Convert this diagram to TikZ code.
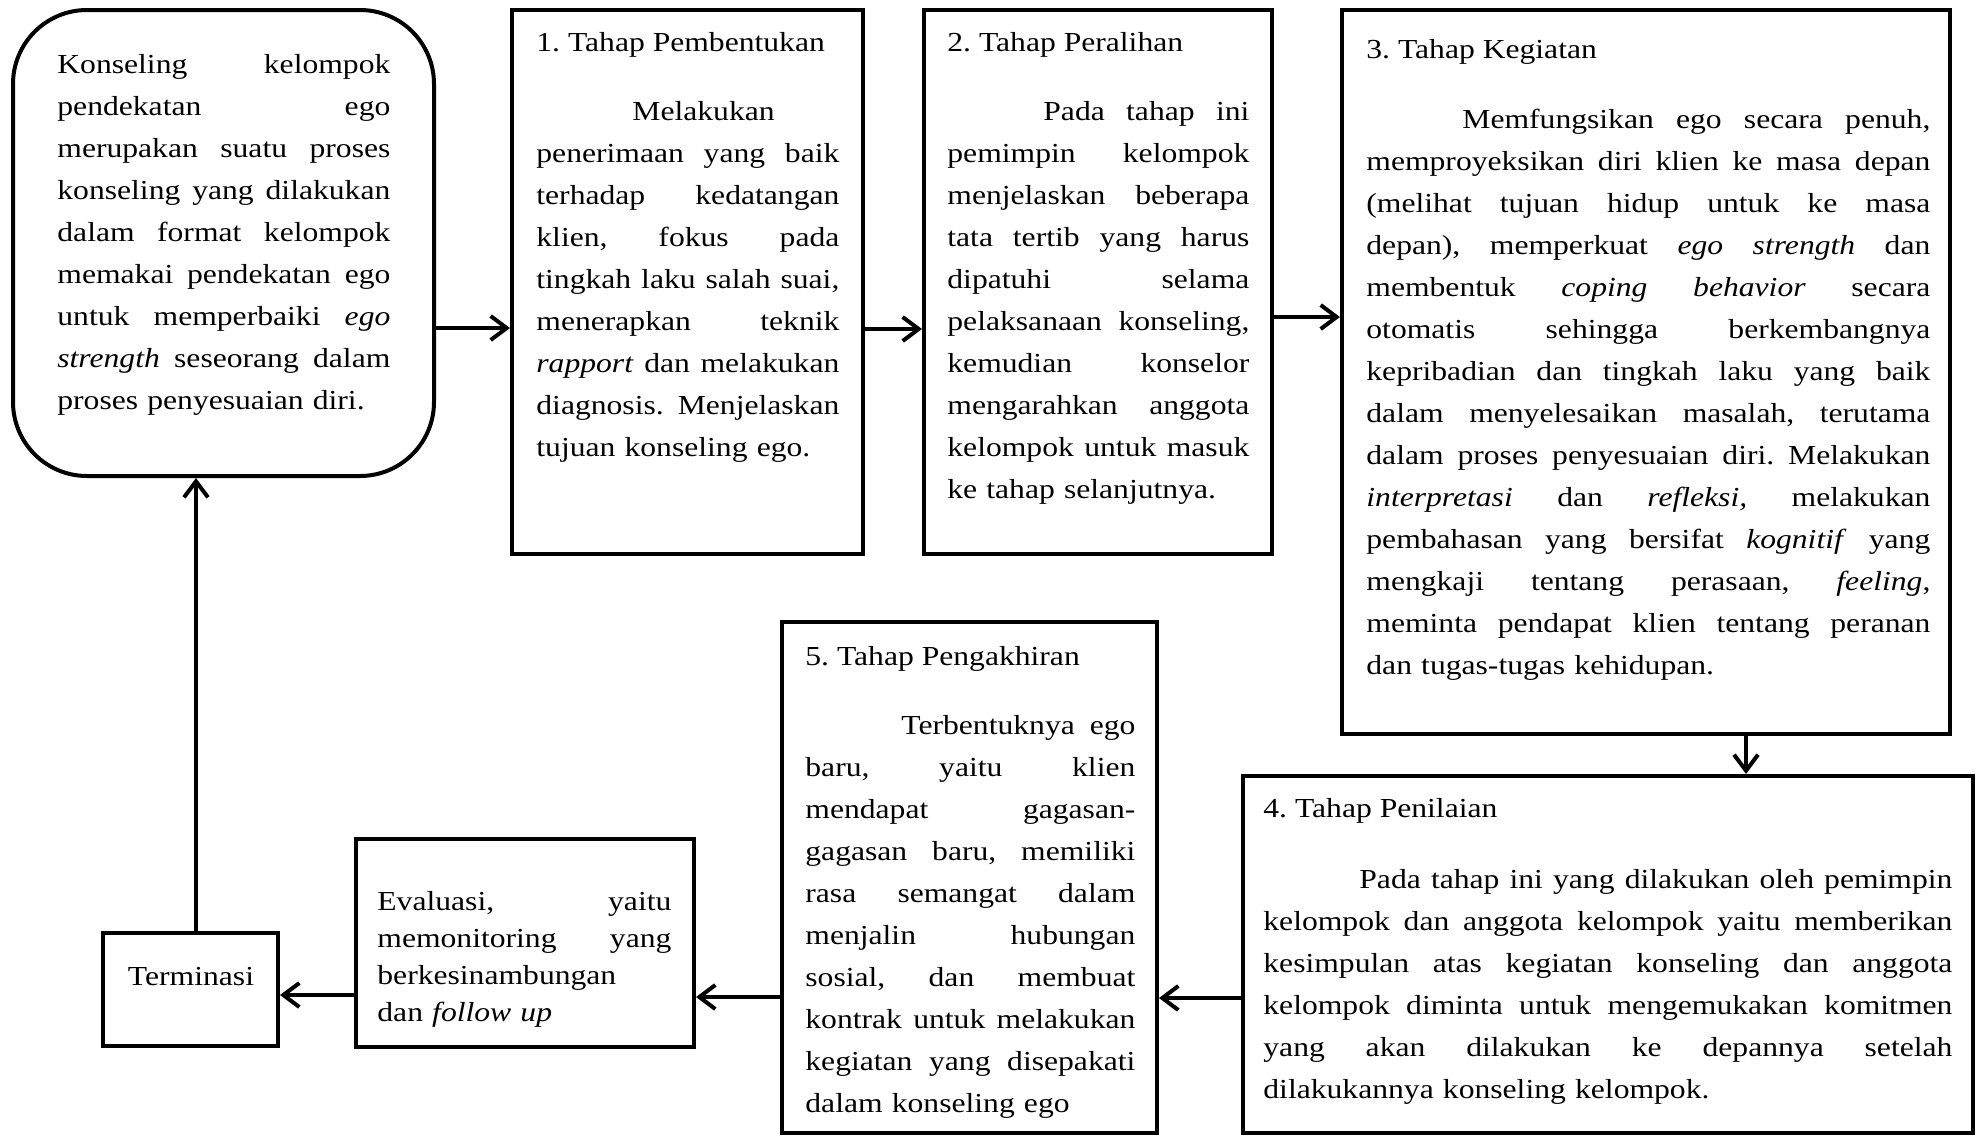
\documentclass[tikz,border=0pt]{standalone}
\usepackage{fontspec}
\setmainfont{Liberation Serif}[FakeStretch=1.15]
\usetikzlibrary{arrows.meta,fit}
\def\W{100pt}
\newcommand\jl[1]{\leavevmode\hbox to \W{\spaceskip=0.25em plus 1fill\xspaceskip=0.25em plus 1fill\relax #1}}
\tikzset{
  boxst/.style={draw, line width=2pt, inner sep=0pt, rectangle},
  txt/.style={inner sep=0pt, anchor=base west, align=left, text width=#1,
    font=\fontsize{13.75pt}{21pt}\selectfont\frenchspacing},
  ttl/.style={inner sep=0pt, anchor=base west, font=\fontsize{13.75pt}{21pt}\selectfont\frenchspacing},
  arr/.style={line width=2pt, -{Straight Barb[length=8pt,width=12pt]}},
}
\begin{document}
\begin{tikzpicture}[x=0.5pt,y=-0.5pt]
\useasboundingbox[fill=white] (0,0) rectangle (1977,1137);

% boxes
\node[boxst, rounded corners=37pt, fit={(13,10) (434,476)}] (b0) {};
\node[boxst, fit={(512,10) (863,554)}] (b1) {};
\node[boxst, fit={(924,10) (1272,554)}] (b2) {};
\node[boxst, fit={(1342,10) (1950,734)}] (b3) {};
\node[boxst, fit={(1243,776) (1973,1133)}] (b4) {};
\node[boxst, fit={(782,622) (1157,1133)}] (b5) {};
\node[boxst, fit={(356,839) (694,1047)}] (ev) {};
\node[boxst, fit={(103,933) (278,1046)}] (te) {};

% texts
\node[txt=166.5pt] (t0) at (57,73) {\def\W{166.5pt}%
\jl{Konseling kelompok}\\
\jl{pendekatan ego}\\
\jl{merupakan suatu proses}\\
\jl{konseling yang dilakukan}\\
\jl{dalam format kelompok}\\
\jl{memakai pendekatan ego}\\
\jl{untuk memperbaiki \textit{ego}}\\
\jl{\textit{strength} seseorang dalam}\\
proses penyesuaian diri.};

\node[ttl] (h1) at (536,51) {1. Tahap Pembentukan};
\node[txt=151.5pt] (t1) at (536,120) {\def\W{151.5pt}%
\hspace*{48pt}Melakukan\\
\jl{penerimaan yang baik}\\
\jl{terhadap kedatangan}\\
\jl{klien, fokus pada}\\
\jl{tingkah laku salah suai,}\\
\jl{menerapkan teknik}\\
\jl{\textit{rapport} dan melakukan}\\
\jl{diagnosis. Menjelaskan}\\
tujuan konseling ego.};

\node[ttl] (h2) at (947,51) {2. Tahap Peralihan};
\node[txt=151pt] (t2) at (947,120) {\def\W{151pt}%
\jl{\hspace*{48pt}Pada tahap ini}\\
\jl{pemimpin kelompok}\\
\jl{menjelaskan beberapa}\\
\jl{tata tertib yang harus}\\
\jl{dipatuhi selama}\\
\jl{pelaksanaan konseling,}\\
\jl{kemudian konselor}\\
\jl{mengarahkan anggota}\\
\jl{kelompok untuk masuk}\\
ke tahap selanjutnya.};

\node[ttl] (h3) at (1366,58) {3. Tahap Kegiatan};
\node[txt=282pt] (t3) at (1366,128) {\def\W{282pt}%
\jl{\hspace*{48pt}Memfungsikan ego secara penuh,}\\
\jl{memproyeksikan diri klien ke masa depan}\\
\jl{(melihat tujuan hidup untuk ke masa}\\
\jl{depan), memperkuat \textit{ego} \textit{strength} dan}\\
\jl{membentuk \textit{coping} \textit{behavior} secara}\\
\jl{otomatis sehingga berkembangnya}\\
\jl{kepribadian dan tingkah laku yang baik}\\
\jl{dalam menyelesaikan masalah, terutama}\\
\jl{dalam proses penyesuaian diri. Melakukan}\\
\jl{\textit{interpretasi} dan \textit{refleksi,} melakukan}\\
\jl{pembahasan yang bersifat \textit{kognitif} yang}\\
\jl{mengkaji tentang perasaan, \textit{feeling},}\\
\jl{meminta pendapat klien tentang peranan}\\
dan tugas-tugas kehidupan.};

\node[ttl] (h4) at (1263,817) {4. Tahap Penilaian};
\node[txt=344.5pt] (t4) at (1263,888) {\def\W{344.5pt}%
\jl{\hspace*{48pt}Pada tahap ini yang dilakukan oleh pemimpin}\\
\jl{kelompok dan anggota kelompok yaitu memberikan}\\
\jl{kesimpulan atas kegiatan konseling dan anggota}\\
\jl{kelompok diminta untuk mengemukakan komitmen}\\
\jl{yang akan dilakukan ke depannya setelah}\\
dilakukannya konseling kelompok.};

\node[ttl] (h5) at (805,665) {5. Tahap Pengakhiran};
\node[txt=165pt] (t5) at (805,734) {\def\W{165pt}%
\jl{\hspace*{48pt}Terbentuknya ego}\\
\jl{baru, yaitu klien}\\
\jl{mendapat gagasan-}\\
\jl{gagasan baru, memiliki}\\
\jl{rasa semangat dalam}\\
\jl{menjalin hubungan}\\
\jl{sosial, dan membuat}\\
\jl{kontrak untuk melakukan}\\
\jl{kegiatan yang disepakati}\\
dalam konseling ego};

\node[txt=147pt, font=\fontsize{13.75pt}{18.5pt}\selectfont\frenchspacing] (tev) at (377,910) {\def\W{147pt}%
\jl{Evaluasi, yaitu}\\
\jl{memonitoring yang}\\
berkesinambungan\\
dan \textit{follow up}};

\node[ttl, anchor=base] (tte) at (191,985) {Terminasi};

% connector guides
\coordinate (a01) at (0,328);
\coordinate (a12) at (0,329);
\coordinate (a23) at (0,317);
\coordinate (a34) at (1746,0);
\coordinate (a45) at (0,998);
\coordinate (a5e) at (0,997);
\coordinate (aet) at (0,995);
\coordinate (at0) at (196,0);

\draw[arr] (a01 -| b0.east) -- (a01 -| b1.west);
\draw[arr] (a12 -| b1.east) -- (a12 -| b2.west);
\draw[arr] (a23 -| b2.east) -- (a23 -| b3.west);
\draw[arr] (a34 |- b3.south) -- (a34 |- b4.north);
\draw[arr] (a45 -| b4.west) -- (a45 -| b5.east);
\draw[arr] (a5e -| b5.west) -- (a5e -| ev.east);
\draw[arr] (aet -| ev.west) -- (aet -| te.east);
\draw[arr] (at0 |- te.north) -- (at0 |- b0.south);
\end{tikzpicture}
\end{document}
